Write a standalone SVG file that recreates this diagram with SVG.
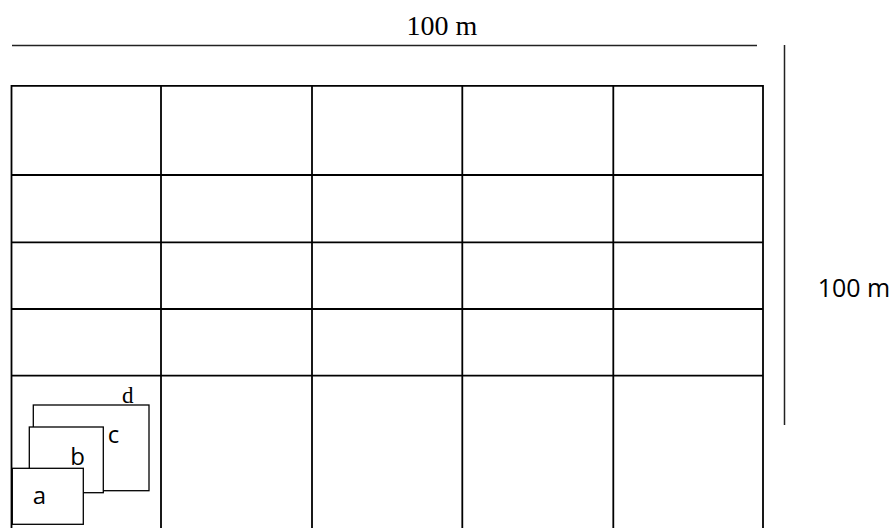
<svg xmlns="http://www.w3.org/2000/svg" width="892" height="528" viewBox="0 0 892 528">
<style>
.g{stroke:#000;stroke-width:1.8;fill:none}
.r{stroke:#000;stroke-width:1.3;fill:#fff}
.dim{stroke:#222;stroke-width:1.5;fill:none}
.serif{font-family:"Liberation Serif","Times New Roman",serif;fill:#000}
.sans{font-family:"Open Sans","Liberation Sans",sans-serif;fill:#000}
</style>
<rect width="892" height="528" fill="#fff"/>
<g id="dimensions">
<line class="dim" x1="12" y1="45.5" x2="757" y2="45.5"/>
<text class="serif" x="442" y="35" font-size="28" text-anchor="middle">100 m</text>
<line class="dim" x1="784.5" y1="45" x2="784.5" y2="425"/>
<text class="sans" x="854" y="296.5" font-size="25" text-anchor="middle">100 m</text>
</g>
<g id="grid">
<polyline class="g" points="11.5,530 11.5,85.8 763,85.8 763,530"/>
<line class="g" x1="161" y1="85.8" x2="161" y2="530"/>
<line class="g" x1="312" y1="85.8" x2="312" y2="530"/>
<line class="g" x1="462.3" y1="85.8" x2="462.3" y2="530"/>
<line class="g" x1="613.3" y1="85.8" x2="613.3" y2="530"/>
<line class="g" x1="11.5" y1="175" x2="763" y2="175"/>
<line class="g" x1="11.5" y1="242.3" x2="763" y2="242.3"/>
<line class="g" x1="11.5" y1="309" x2="763" y2="309"/>
<line class="g" x1="11.5" y1="375.7" x2="763" y2="375.7"/>
</g>
<g id="d">
<rect class="r" x="33.3" y="405" width="115.7" height="85.7"/>
<text class="serif" x="127.7" y="403" font-size="23" text-anchor="middle">d</text>
</g>
<g id="c">
<rect class="r" x="29.3" y="427" width="74" height="65.7"/>
<text class="sans" x="113.5" y="443" font-size="24" text-anchor="middle">c</text>
</g>
<g id="b">
<text class="sans" x="77.7" y="465" font-size="24" text-anchor="middle">b</text>
</g>
<g id="a">
<rect class="r" x="12.3" y="468.3" width="71" height="56"/>
<text class="sans" x="39.3" y="504" font-size="24" text-anchor="middle">a</text>
</g>
</svg>
